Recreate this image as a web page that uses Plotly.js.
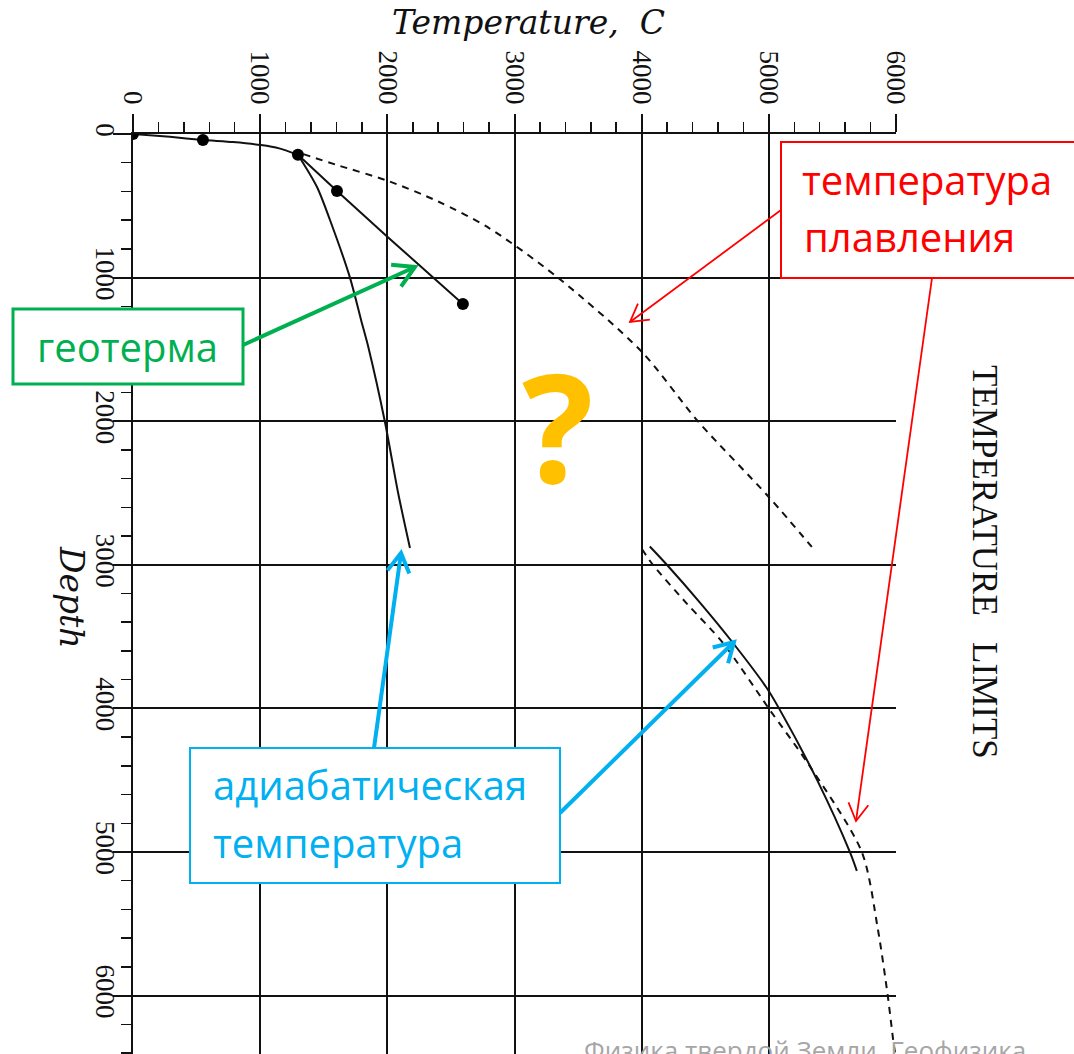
<!DOCTYPE html>
<html>
<head>
<meta charset="utf-8">
<script src="https://cdn.plot.ly/plotly-3.0.1.min.js"></script>
<style>html,body{margin:0;padding:0;background:#fff;overflow:hidden}#chart{width:1074px;height:1054px}</style>
</head>
<body>
<div id="chart"></div>
<script>
// ---- data (Temperature, C / Depth, km) ----
const geoShallowT = [0, 290, 550, 786, 1006, 1150, 1297];
const geoShallowD = [0, 20, 42, 56, 77, 100, 144];
const geothermT = [1297, 1604, 2000, 2594];
const geothermD = [144, 397, 715, 1184];
const dotT = [0, 550, 1297, 1604, 2594];
const dotD = [0, 42, 144, 397, 1184];
const adiabatUpT = [1297, 1447, 1549, 1706, 1795, 1855, 1980, 2085, 2178];
const adiabatUpD = [144, 369, 599, 1000, 1300, 1500, 2000, 2500, 2883];
const meltUpT = [1340, 1600, 2000, 2400, 2800, 3341, 4000, 4442, 5000, 5338];
const meltUpD = [140, 215, 325, 470, 655, 1000, 1516, 2000, 2528, 2876];
const adiabatLowT = [4064, 4198, 4460, 4717, 4985, 5080, 5380, 5637, 5692];
const adiabatLowD = [2873, 3000, 3265, 3543, 3860, 4000, 4500, 5000, 5132];
const meltLowT = [4002, 4088, 4355, 4638, 4999, 5320, 5731, 5857, 5935, 5983, 5995];
const meltLowD = [2890, 3000, 3270, 3543, 4000, 4400, 5000, 5536, 6000, 6344, 6407];
const xTitle = 'Temperature,\u00A0\u00A0C';
const yTitle = 'Depth';
const sideTitle = 'TEMPERATURE\u00A0\u00A0\u00A0LIMITS';
const labelMelt = ['температура', 'плавления'];
const labelGeo = ['геотерма'];
const labelAdiab = ['адиабатическая', 'температура'];
const footer = 'Физика твердой Земли. Геофизика.';

// ---- layout helpers (pixel -> paper) ----
const W = 1074, H = 1054, PL = 133, PR = 896, PT = 134, PB = 1054;
const fx = p => (p - PL) / (PR - PL);
const fy = p => (PB - p) / (PB - PT);

const solid = {color: '#111', width: 2};
const dashed = {color: '#111', width: 2, dash: '7px,6px'};
const traces = [
  {x: geoShallowT, y: geoShallowD, mode: 'lines', line: Object.assign({shape: 'spline', smoothing: 0.6}, solid)},
  {x: geothermT, y: geothermD, mode: 'lines', line: Object.assign({shape: 'spline', smoothing: 0.4}, solid)},
  {x: adiabatUpT, y: adiabatUpD, mode: 'lines', line: Object.assign({shape: 'spline', smoothing: 0.8}, solid)},
  {x: meltUpT, y: meltUpD, mode: 'lines', line: Object.assign({shape: 'spline', smoothing: 0.8}, dashed)},
  {x: adiabatLowT, y: adiabatLowD, mode: 'lines', line: Object.assign({shape: 'spline', smoothing: 0.8}, solid)},
  {x: meltLowT, y: meltLowD, mode: 'lines', line: Object.assign({shape: 'spline', smoothing: 0.8}, dashed)},
  {x: dotT, y: dotD, mode: 'markers', marker: {color: '#000', size: 12}}
];

const tickFont = {family: 'Liberation Serif', size: 27, color: '#111'};
const axisCommon = {
  showgrid: true, gridcolor: '#111', gridwidth: 2,
  showline: true, linecolor: '#111', linewidth: 2,
  ticks: 'outside', ticklen: 18, tickwidth: 2, tickcolor: '#111',
  tickangle: 90, tickfont: tickFont, zeroline: false, automargin: false,
  tick0: 0, dtick: 1000,
  minor: {dtick: 200, ticks: 'outside', ticklen: 10, tickwidth: 1.5, tickcolor: '#111', showgrid: false}
};

const sans = 'Open Sans';
const txt = (t, px, baseline, size, color, extra) => Object.assign({
  text: t, xref: 'paper', yref: 'paper', x: fx(px), y: fy(baseline - 0.388 * size),
  xanchor: 'left', yanchor: 'middle', showarrow: false,
  font: {family: sans, size: size, color: color}
}, extra || {});
// arrow drawn as a line plus an open V head (pixel positions -> paper)
const arrow = (tipX, tipY, tailX, tailY, color, width, len) => {
  const dx = tailX - tipX, dy = tailY - tipY, L = Math.hypot(dx, dy);
  const ux = dx / L, uy = dy / L, a = Math.PI / 6;
  const r = s => [tipX + len * (ux * Math.cos(s) - uy * Math.sin(s)), tipY + len * (ux * Math.sin(s) + uy * Math.cos(s))];
  const h1 = r(a), h2 = r(-a);
  const P = (x, y) => fx(x) + ',' + fy(y);
  return [
    {type: 'line', xref: 'paper', yref: 'paper', x0: fx(tailX), y0: fy(tailY), x1: fx(tipX), y1: fy(tipY),
     line: {color: color, width: width}, layer: 'above'},
    {type: 'path', xref: 'paper', yref: 'paper', path: 'M' + P(h1[0], h1[1]) + 'L' + P(tipX, tipY) + 'L' + P(h2[0], h2[1]),
     line: {color: color, width: width}, layer: 'above'}
  ];
};
const box = (x0, y0, x1, y1, color, w) => ({
  type: 'rect', xref: 'paper', yref: 'paper', x0: fx(x0), x1: fx(x1), y0: fy(y1), y1: fy(y0),
  line: {color: color, width: w}, fillcolor: '#fff', layer: 'above'
});

const RED = '#FF0000', GREEN = '#00B050', BLUE = '#00B0F0';
const layout = {
  width: W, height: H, showlegend: false,
  paper_bgcolor: '#fff', plot_bgcolor: '#fff',
  margin: {l: PL, r: W - PR, t: PT, b: H - PB, pad: 0},
  xaxis: Object.assign({side: 'top', range: [0, 6000]}, axisCommon),
  yaxis: Object.assign({range: [6407, 0], ticklabelstandoff: -15}, axisCommon),
  shapes: [
    box(781, 142, 1090, 278, RED, 2),
    box(13, 309, 243, 384, GREEN, 3),
    box(190, 748, 560, 883, BLUE, 2)
  ].concat(
    arrow(630, 322, 781, 210, RED, 1.8, 20),
    arrow(856, 821, 932, 278, RED, 1.8, 20),
    arrow(415, 267, 243, 345, GREEN, 4, 24),
    arrow(401, 553, 374, 748, BLUE, 4, 22),
    arrow(734, 642, 560, 813, BLUE, 4, 22)
  ),
  annotations: [
    {text: xTitle, xref: 'paper', yref: 'paper', x: fx(528), y: fy(23), xanchor: 'center', yanchor: 'middle', showarrow: false,
     font: {family: 'DejaVu Serif', size: 33, style: 'italic', color: '#111'}},
    {text: yTitle, xref: 'paper', yref: 'paper', x: fx(72), y: fy(597), xanchor: 'center', yanchor: 'middle', showarrow: false, textangle: 90,
     font: {family: 'DejaVu Serif', size: 33, style: 'italic', color: '#111'}},
    {text: sideTitle, xref: 'paper', yref: 'paper', x: fx(985), y: fy(562), xanchor: 'center', yanchor: 'middle', showarrow: false, textangle: 90,
     font: {family: 'Liberation Serif', size: 35, color: '#111'}},
    txt('?', 520, 483, 150, '#FFC000', {font: {family: sans, size: 150, color: '#FFC000', weight: 'bold'}}),
    txt(labelMelt[0], 800, 195, 40, RED),
    txt(labelMelt[1], 802, 252, 40, RED),
    txt(labelGeo[0], 35, 362, 40, GREEN),
    txt(labelAdiab[0], 211, 800, 40, BLUE),
    txt(labelAdiab[1], 211, 858, 40, BLUE),
    txt(footer, 582, 1060, 26, '#A6A6A6')
  ]
};

Plotly.newPlot('chart', traces, layout, {staticPlot: true, displayModeBar: false});
</script>
</body>
</html>
